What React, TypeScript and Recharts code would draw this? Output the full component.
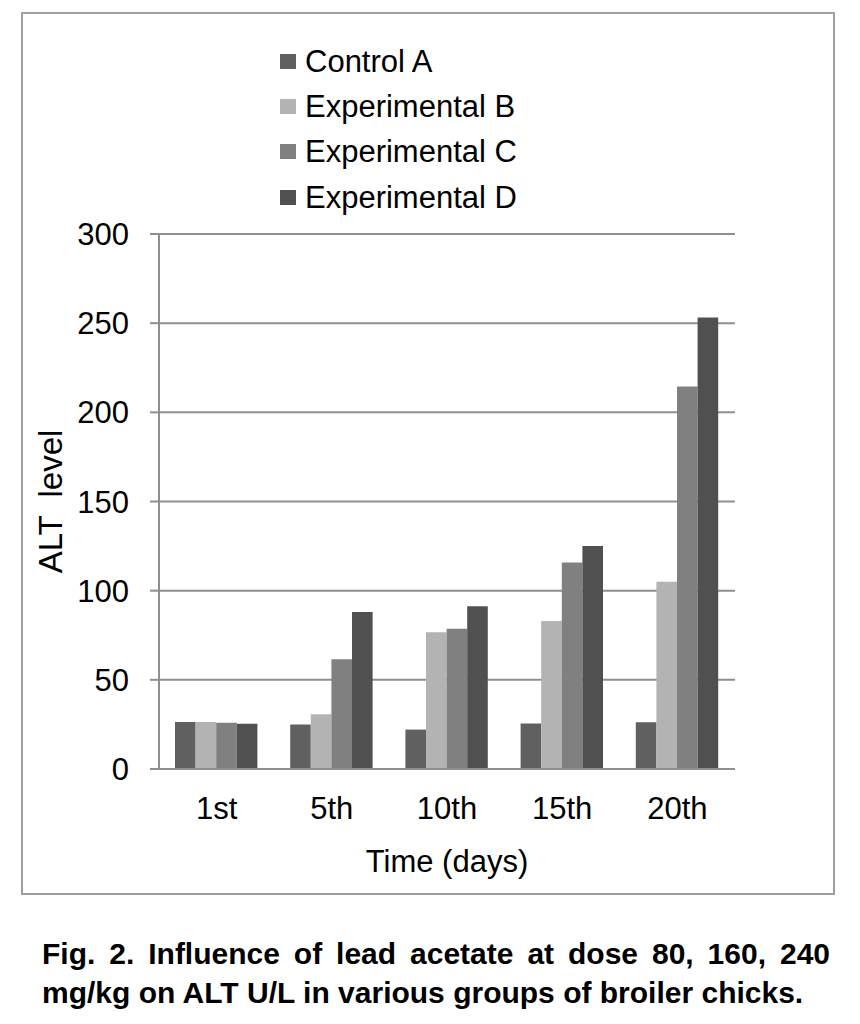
import React from "react";
import { BarChart, Bar, XAxis, YAxis, CartesianGrid, Legend } from "recharts";

const categories = ["1st", "5th", "10th", "15th", "20th"];
const controlA = [26.4, 25.0, 22.1, 25.5, 26.2];
const experimentalB = [26.4, 30.7, 76.7, 83.0, 105.0];
const experimentalC = [26.0, 61.6, 78.6, 115.8, 214.5];
const experimentalD = [25.4, 88.0, 91.2, 125.0, 253.2];
const yTicks = [0, 50, 100, 150, 200, 250, 300];

const seriesNames = ["Control A", "Experimental B", "Experimental C", "Experimental D"];
const seriesKeys = ["a", "b", "c", "d"];
const seriesColors = ["#606060", "#b3b3b3", "#808080", "#505050"];

const data = categories.map((day, i) => ({
  day,
  a: controlA[i],
  b: experimentalB[i],
  c: experimentalC[i],
  d: experimentalD[i],
}));

const FONT = "'Liberation Sans', Arial, Helvetica, sans-serif";
const GRID = "#8f8f8f";

const LegendContent = () => (
  <div style={{ fontFamily: FONT, fontSize: 31, color: "#000" }}>
    {seriesNames.map((name, i) => (
      <div
        key={name}
        style={{ display: "flex", alignItems: "center", height: 45.2, lineHeight: "45.2px", whiteSpace: "nowrap" }}
      >
        <span
          style={{
            display: "inline-block",
            width: 16,
            height: 15,
            background: seriesColors[i],
            marginRight: 9,
          }}
        />
        <span>{name}</span>
      </div>
    ))}
  </div>
);

export default function App() {
  return (
    <div style={{ position: "absolute", left: 0, top: 0, width: 860, height: 1024, background: "#fff", fontFamily: FONT }}>
      <div
        style={{
          position: "absolute",
          left: 21,
          top: 12,
          width: 810,
          height: 879,
          border: "2px solid #9e9e9e",
        }}
      />
      <div style={{ position: "absolute", left: 0, top: 0 }}>
        <BarChart
          width={860}
          height={920}
          data={data}
          margin={{ top: 234, right: 125, bottom: 91, left: 79 }}
          barGap={0}
        >
          <CartesianGrid vertical={false} stroke={GRID} strokeWidth={2} />
          <XAxis
            dataKey="day"
            height={60}
            axisLine={{ stroke: GRID, strokeWidth: 2 }}
            tickLine={false}
            tickSize={0}
            tickMargin={28}
            tick={{ fontSize: 31, fill: "#000", fontFamily: FONT }}
            label={(props: any) => {
              const vb = props.viewBox || { x: 159, y: 769, width: 576, height: 60 };
              return (
                <text
                  x={vb.x + vb.width / 2}
                  y={vb.y + 103}
                  textAnchor="middle"
                  fontSize={31}
                  fontFamily={FONT}
                  fill="#000"
                >
                  Time (days)
                </text>
              );
            }}
          />
          <YAxis
            width={80}
            domain={[0, 300]}
            ticks={yTicks}
            interval={0}
            axisLine={{ stroke: GRID, strokeWidth: 2 }}
            tickLine={{ stroke: GRID, strokeWidth: 2 }}
            tickSize={9}
            tickMargin={21}
            tick={{ fontSize: 31, fill: "#000", fontFamily: FONT }}
            label={(props: any) => {
              const vb = props.viewBox || { x: 79, y: 234, width: 80, height: 535 };
              const cx = vb.x - 17;
              const cy = vb.y + vb.height / 2;
              return (
                <text
                  x={cx}
                  y={cy}
                  transform={`rotate(-90, ${cx}, ${cy})`}
                  textAnchor="middle"
                  fontSize={33}
                  fontFamily={FONT}
                  fill="#000"
                  style={{ whiteSpace: "pre" }}
                >
                  {"ALT  level"}
                </text>
              );
            }}
          />
          <Legend
            verticalAlign="top"
            content={<LegendContent />}
            wrapperStyle={{ position: "absolute", left: 280, top: 39, width: 320, height: 0, overflow: "visible" }}
          />
          {seriesKeys.map((k, i) => (
            <Bar
              key={k}
              dataKey={k}
              name={seriesNames[i]}
              fill={seriesColors[i]}
              barSize={20.6}
              isAnimationActive={false}
            />
          ))}
        </BarChart>
      </div>
      <div
        style={{
          position: "absolute",
          left: 42,
          top: 934,
          width: 788,
          fontSize: 30,
          fontWeight: "bold",
          lineHeight: "39px",
          textAlign: "justify",
          textAlignLast: "justify",
          whiteSpace: "nowrap",
          color: "#000",
        }}
      >
        Fig. 2. Influence of lead acetate at dose 80, 160, 240
      </div>
      <div
        style={{
          position: "absolute",
          left: 42,
          top: 973,
          fontSize: 30,
          fontWeight: "bold",
          lineHeight: "39px",
          whiteSpace: "nowrap",
          color: "#000",
        }}
      >
        mg/kg on ALT U/L in various groups of broiler chicks.
      </div>
    </div>
  );
}
